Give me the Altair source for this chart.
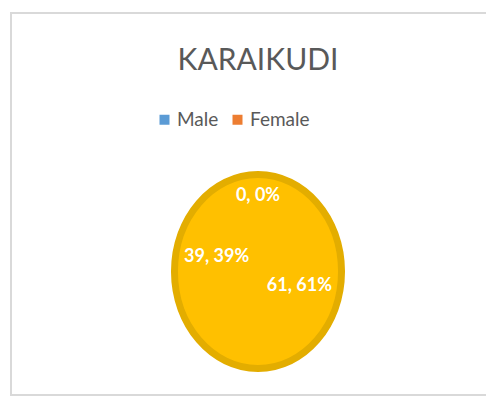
import altair as alt
import pandas as pd

categories = ["Male", "Female", "Other"]
values = [61, 39, 0]
percents = ["61%", "39%", "0%"]
slice_order = [1, 2, 3]
legend_entries = ["Male", "Female"]
title_text = "KARAIKUDI"

df = pd.DataFrame({
    "category": categories,
    "value": values,
    "pct": percents,
    "ord": slice_order,
})
df["label"] = df["value"].astype(str) + ", " + df["pct"]

W, H = 476, 384
CX, CY = 248, 259.5
GOLD = "#FFC000"
RING = "#E3AD00"
FRAME = "#D9D9D9"
FONT = "Lato"

ellipse_path = "M -0.861 0 A 0.861 1 0 1 0 0.861 0 A 0.861 1 0 1 0 -0.861 0 Z"

base = alt.Chart(df)

theta = alt.Theta("value:Q", stack=True)
order = alt.Order("ord:Q", sort="ascending")

one = base.transform_filter("datum.ord == 1")

frame = one.mark_rect(fill="transparent", stroke=FRAME, strokeWidth=2).encode(
    x=alt.value(1), x2=alt.value(W + 30), y=alt.value(1), y2=alt.value(H - 1)
)

slices = base.mark_arc(radius=70).encode(
    theta=theta,
    order=order,
    x=alt.value(CX),
    y=alt.value(CY),
    color=alt.Color(
        "category:N",
        scale=alt.Scale(domain=categories, range=["#5B9BD5", "#ED7D31", GOLD]),
        legend=alt.Legend(
            values=legend_entries,
            title=None,
            orient="none",
            direction="horizontal",
            legendX=145,
            legendY=98,
            symbolType="square",
            symbolSize=100,
            symbolStrokeWidth=0,
            labelFont=FONT,
            labelFontSize=19,
            labelColor="#595959",
            labelOffset=3,
            columnPadding=9,
        ),
    ),
)

ellipse = one.mark_point(
    shape=ellipse_path,
    size=37636,
    filled=True,
    fill=GOLD,
    stroke=RING,
    strokeWidth=7,
    opacity=1,
).encode(x=alt.value(CX), y=alt.value(CY))

labels_in = base.mark_text(
    radius=44, font=FONT, fontSize=18, fontWeight="bold", color="white",
    align="center", baseline="middle",
).encode(
    theta=theta,
    order=order,
    detail="category:N",
    text="label:N",
    x=alt.value(CX),
    y=alt.value(CY),
    opacity=alt.condition("datum.value > 0", alt.value(1), alt.value(0)),
)

labels_out = base.mark_text(
    radius=76, font=FONT, fontSize=18, fontWeight="bold", color="white",
    align="center", baseline="middle",
).encode(
    theta=theta,
    order=order,
    detail="category:N",
    text="label:N",
    x=alt.value(CX),
    y=alt.value(CY),
    opacity=alt.condition("datum.value > 0", alt.value(0), alt.value(1)),
)

chart = alt.layer(
    frame, slices, ellipse, labels_in, labels_out
).properties(
    width=W,
    height=H,
    autosize=alt.AutoSizeParams(type="none"),
    padding={"left": 2, "top": 4, "right": 0, "bottom": 0},
    view=alt.ViewBackground(stroke="transparent", strokeWidth=0),
    title=alt.TitleParams(
        title_text,
        font=FONT,
        fontSize=30,
        fontWeight="normal",
        color="#595959",
        anchor="middle",
        orient="top",
        offset=-64,
        dx=10,
    ),
).configure(
    background="white",
    view=alt.ViewConfig(strokeWidth=0, stroke="transparent"),
)

chart.save("out.html", embed_options={"renderer": "svg", "actions": False})
